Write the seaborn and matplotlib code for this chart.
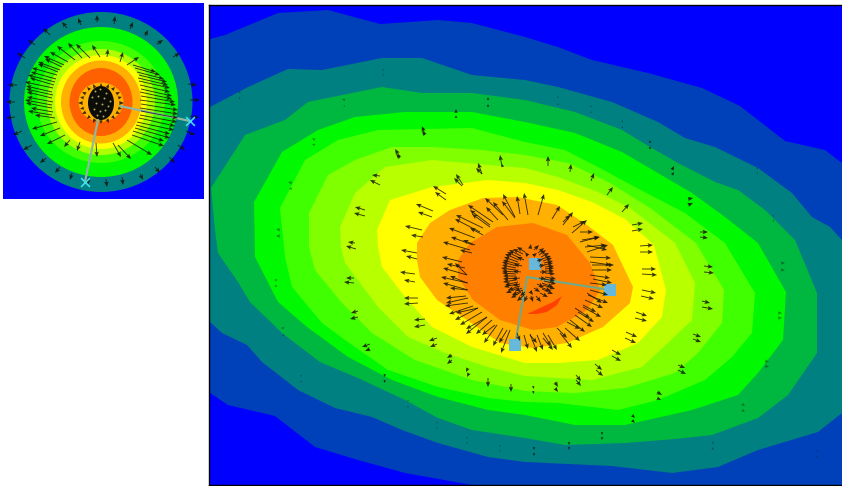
import matplotlib
matplotlib.use('Agg')
import matplotlib.pyplot as plt
from matplotlib.patches import Ellipse
import seaborn as sns

band_colors = ['#0040b8', '#008080', '#00b840', '#00f800', '#40ff00', '#80ff00',
               '#b8ff00', '#ffff00', '#ffb000', '#ff8000']
crescent_color = '#ff4000'
field_color = '#0000ff'

# contour edges of the large field, outermost first
edge1_x = [210, 225, 278, 328, 380, 438, 472, 525, 558, 592, 648, 702, 740, 785, 825, 842, 870, 870, 472, 405, 358, 315, 275, 228, 210, 190, 190]
edge1_y = [39, 35, 13, 10, 24, 20, 23, 37, 47, 60, 73, 88, 106, 141, 150, 163, 170, 500, 485, 473, 460, 447, 416, 405, 393, 393, 39]
edge2_x = [210, 248, 288, 322, 382, 422, 472, 525, 558, 612, 658, 685, 715, 758, 792, 812, 830, 842, 870, 870, 842, 818, 758, 718, 672, 612, 525, 488, 438, 402, 372, 335, 298, 262, 247, 222, 210, 190, 190]
edge2_y = [107, 87, 69, 70, 58, 58, 75, 80, 87, 102, 122, 138, 147, 168, 193, 217, 227, 240, 250, 400, 413, 432, 450, 467, 473, 466, 462, 457, 443, 430, 417, 408, 390, 362, 345, 333, 322, 322, 107]
edge3_x = [211, 245, 285, 308, 382, 422, 472, 525, 575, 622, 650, 678, 715, 738, 765, 795, 817, 817, 788, 758, 712, 675, 625, 565, 525, 472, 438, 405, 358, 320, 282, 250, 238, 218, 215]
edge3_y = [188, 135, 120, 102, 87, 93, 93, 100, 112, 130, 147, 163, 182, 190, 210, 240, 293, 353, 395, 418, 435, 439, 443, 445, 438, 430, 418, 400, 378, 362, 333, 302, 282, 253, 230]
edge4_x = [254, 282, 318, 355, 405, 472, 525, 575, 622, 692, 725, 758, 786, 783, 758, 738, 692, 625, 575, 525, 488, 438, 392, 348, 307, 278, 255]
edge4_y = [202, 152, 130, 117, 112, 112, 122, 133, 152, 193, 217, 243, 292, 340, 373, 395, 410, 425, 425, 415, 410, 397, 380, 357, 327, 302, 257]
edge5_x = [280, 305, 338, 378, 425, 472, 525, 565, 598, 635, 685, 725, 755, 752, 732, 705, 658, 618, 558, 525, 488, 438, 388, 345, 322, 292, 285]
edge5_y = [208, 160, 140, 130, 129, 128, 142, 150, 167, 187, 213, 243, 293, 333, 357, 380, 400, 410, 403, 402, 398, 387, 370, 340, 323, 287, 257]
edge6_x = [309, 328, 355, 392, 432, 482, 525, 568, 610, 650, 696, 724, 722, 698, 675, 625, 575, 525, 472, 415, 372, 342, 315, 309]
edge6_y = [213, 175, 160, 147, 147, 150, 155, 163, 183, 208, 243, 290, 323, 353, 373, 388, 393, 391, 380, 360, 333, 303, 270, 247]
edge7_x = [340, 355, 385, 432, 488, 525, 558, 598, 630, 675, 695, 692, 668, 642, 592, 525, 488, 445, 408, 378, 345, 341]
edge7_y = [227, 193, 167, 160, 165, 168, 177, 192, 208, 243, 283, 320, 343, 367, 380, 376, 367, 353, 337, 307, 263, 247]
edge8_x = [377, 390, 432, 488, 525, 558, 592, 625, 654, 666, 662, 638, 598, 558, 525, 472, 432, 405, 382, 378]
edge8_y = [230, 200, 187, 180, 183, 190, 202, 219, 245, 290, 317, 343, 360, 363, 363, 347, 327, 297, 267, 247]
edge9_x = [417, 430, 450, 483, 517, 557, 587, 613, 633, 630, 603, 567, 533, 500, 467, 437, 420, 417]
edge9_y = [243, 223, 210, 198, 197, 205, 225, 245, 287, 303, 327, 343, 348, 343, 320, 300, 277, 260]
edge10_x = [470, 497, 533, 567, 590, 600, 587, 557, 533, 500, 473, 458, 458]
edge10_y = [243, 227, 223, 235, 263, 290, 310, 327, 330, 320, 300, 277, 260]
crescent_x = [527, 540, 553, 562, 557, 547, 537]
crescent_y = [314, 308, 302, 296, 305, 312, 314]

# long arrows round the orange zone
ring1_x = [528, 538, 552, 563, 572, 580, 587, 592, 593, 588, 583, 575, 565, 543, 530, 510, 497, 487, 478, 468, 468, 467, 470, 475, 483, 493, 503, 515,
           563, 573, 580, 582, 587, 590, 592, 590, 587, 583, 575, 567, 557, 543, 530, 517, 507, 495, 487, 478, 468, 467, 467, 467, 472, 475, 483, 490, 498, 515,
           462, 465, 466, 468, 473, 480, 490, 508, 520, 585, 590, 590, 590, 585, 578, 570, 560, 548, 537, 524, 503, 492, 482, 473]
ring1_y = [215, 215, 219, 225, 233, 242, 252, 265, 279, 295, 307, 315, 328, 333, 334, 330, 325, 317, 308, 303, 290, 275, 250, 238, 228, 222, 215, 217,
           222, 227, 232, 240, 245, 257, 270, 283, 293, 305, 308, 322, 328, 338, 335, 333, 330, 325, 317, 308, 298, 290, 283, 275, 253, 245, 235, 227, 220, 218,
           262, 268, 296, 283, 245, 232, 225, 220, 214, 247, 262, 275, 290, 300, 312, 320, 333, 335, 335, 335, 328, 320, 312, 306]
ring1_u = [-4, 6, 8, 10, 15, 19, 21, 22, 19, 20, 18, 17, 15, 8, 7, -9, -13, -21, -23, -23, -25, -24, -27, -26, -27, -25, -18, -12,
           7, 12, 13, 18, 20, 21, 20, 17, 15, 13, 15, 13, 10, 10, 7, 3, -8, -13, -21, -22, -22, -17, -17, -12, -12, -12, -13, -18, -12, -13,
           -20, -18, -20, -27, -22, -25, -20, -15, -3, 21, 21, 20, 18, 18, 16, 15, 12, 9, 6, 4, -10, -16, -22, -24]
ring1_v = [-22, -21, -13, -13, -13, -5, -7, 0, 4, 8, 10, 12, 13, 13, 18, 23, 18, 17, 12, 3, -7, -7, -8, -10, -13, -17, -17, -23,
           -7, -6, 0, -3, 5, 1, 0, 2, 10, 7, 10, 7, 10, 12, 8, 8, 13, 10, 12, 5, 5, -2, -7, -12, -3, -5, -7, -13, -13, -17,
           -5, -4, 2, -6, -8, -13, -15, -18, -18, -2, 3, 3, 5, 8, 10, 12, 15, 15, 15, 14, 18, 14, 13, 8]

# paired arrows in the yellow and light green zone
ring2_x = [640, 640, 642, 642, 642, 641, 636, 635, 626, 625, 612, 612, 595, 596, 576, 576, 555, 555, 533, 533, 511, 488, 468, 469, 452, 452, 437, 437, 425, 425, 418, 418, 415, 415, 417, 417, 422, 423, 433, 432, 446, 446, 463, 462, 482, 482, 502, 503, 548, 570, 591, 607, 622, 632, 632]
ring2_y = [246, 252, 269, 274, 290, 296, 312, 318, 332, 338, 350, 356, 364, 370, 375, 380, 382, 388, 386, 391, 384, 378, 368, 373, 355, 360, 338, 344, 319, 325, 298, 303, 274, 282, 253, 259, 230, 237, 211, 217, 194, 200, 185, 186, 174, 174, 167, 167, 166, 172, 181, 195, 212, 231, 225]
ring2_u = [13, 13, 14, 15, 14, 13, 11, 12, 11, 11, 9, 9, 7, 7, 5, 5, 3, 3, 1, 1, 0, 0, -2, -2, -5, -5, -8, -7, -11, -11, -14, -14, -15, -11, -16, -11, -17, -12, -17, -14, -13, -11, -7, -8, -4, -6, -2, -1, 0, 1, 3, 6, 7, 11, 11]
ring2_v = [-1, 0, 0, 1, 3, 3, 4, 3, 5, 5, 5, 5, 6, 6, 6, 6, 5, 4, 3, 3, 8, 9, 4, 4, 3, 4, 3, 3, 1, 2, 0, 1, -2, -2, -3, -3, -4, -2, -7, -5, -8, -8, -11, -8, -11, -6, -12, -3, -10, -8, -8, -8, -8, -2, -2]

# short arrows in the green zone
ring3_x = [365, 365, 356, 355, 354, 354, 358, 358, 370, 370, 385, 385, 380, 380, 400, 400, 425, 425, 456, 456, 488, 488, 700, 700, 688, 688, 672, 672, 650, 650, 704, 704, 702, 702, 693, 693, 678, 678, 657, 657, 632, 632, 602, 602, 569, 569, 534, 534]
ring3_y = [210, 216, 249, 243, 278, 283, 311, 317, 344, 349, 374, 380, 176, 185, 157, 158, 135, 135, 113, 118, 100, 107, 232, 237, 205, 199, 170, 175, 143, 149, 266, 272, 301, 307, 334, 339, 365, 370, 392, 398, 415, 420, 432, 437, 442, 447, 447, 453]
ring3_u = [-10, -11, -10, -7, -8, -10, -7, -8, -8, -5, -1, -1, -8, -10, -5, -4, -3, -3, 0, 0, 0, 0, 8, 8, 5, 5, 2, 2, 0, 0, 9, 10, 8, 11, 8, 8, 7, 8, 5, 4, 3, 3, 0, 0, 0, 0, 0, 0]
ring3_v = [-3, -3, -3, -1, 0, -1, 2, 2, 3, 2, 3, 3, -1, -5, -8, -4, -9, -4, -4, -3, -3, -3, 0, 1, -2, -1, -4, -3, -3, -3, 1, 1, 2, 2, 3, 3, 3, 4, 3, 2, 3, 3, 3, 3, 3, 3, 3, 3]

# faint marks in the teal zone
ring4_x = [240, 240, 210, 210, 345, 345, 315, 315, 292, 292, 280, 280, 277, 277, 284, 284, 301, 301, 408, 408, 437, 437, 467, 467, 500, 500, 383, 383, 558, 558, 591, 591, 622, 622, 781, 781, 778, 778, 765, 765, 742, 742, 712, 712, 757, 757, 773, 773, 817, 817]
ring4_y = [93, 99, 153, 158, 100, 106, 140, 145, 183, 189, 230, 236, 280, 286, 328, 335, 375, 381, 400, 406, 422, 427, 437, 442, 445, 450, 69, 74, 98, 105, 107, 113, 122, 128, 263, 270, 313, 318, 361, 366, 404, 410, 442, 448, 169, 174, 215, 220, 450, 456]
ring4_u = [-1, -1, -1, -1, -3, -2, -3, -3, -4, -3, -4, -4, -3, -3, -3, -2, 0, 0, 0, 0, 0, 0, 0, 0, 0, 0, 0, 0, 0, 0, 0, 0, 1, 1, 4, 4, 4, 4, 4, 4, 3, 3, 2, 2, 1, 1, 1, 1, 0, 0]
ring4_v = [-2, -2, 0, 0, -1, 0, -2, -1, -1, -1, -1, 0, 0, 0, 0, 1, 2, 2, 2, 2, 2, 2, 2, 2, 2, 2, 2, 2, -2, -2, -2, -2, -2, -2, 0, 0, 0, 0, 1, 1, 2, 2, 2, 2, -2, -2, 2, 2, 2, 2]

# dense hatch at the source
hatch_x = [525, 521, 519, 517, 516, 516, 516, 516, 517, 518, 521, 524, 527, 531, 536, 540, 542, 543, 544, 545, 545, 545, 544, 543, 541, 538, 534, 530,
           528, 524, 522, 521, 520, 520, 522, 525, 530, 534, 537, 539, 540, 539, 537, 533,
           523, 520, 518, 517, 516, 516, 517, 518, 520, 523, 539, 542, 544, 545, 545, 544, 542, 540]
hatch_y = [252, 256, 260, 264, 268, 272, 276, 280, 284, 288, 292, 295, 296, 296, 296, 293, 289, 285, 281, 277, 273, 269, 265, 261, 257, 253, 250, 249,
           256, 260, 266, 272, 278, 284, 288, 292, 291, 288, 284, 278, 272, 266, 261, 256,
           254, 258, 262, 266, 270, 274, 278, 282, 286, 290, 255, 259, 263, 267, 271, 279, 283, 287]
hatch_u = [-8, -12, -14, -14, -14, -14, -13, -13, -13, -12, -10, -7, -3, 2, 5, 8, 11, 12, 12, 11, 10, 9, 9, 9, 8, 6, 5, 1,
           -3, -7, -8, -8, -8, -7, -7, -5, 3, 6, 7, 7, 7, 6, 6, 4,
           -10, -13, -14, -15, -15, -14, -14, -13, -12, -11, 7, 9, 9, 9, 9, 11, 11, 11]
hatch_v = [-5, -6, -6, -4, -3, -1, 0, 2, 3, 5, 6, 6, 6, 6, 6, 4, 5, 4, 3, 2, 1, -1, -2, -3, -4, -5, -5, -5,
           -4, -3, -2, -1, 1, 2, 3, 4, 4, 4, 3, 1, 0, -1, -2, -3,
           -5, -6, -5, -4, -2, -1, 1, 3, 4, 5, -5, -3, -2, -1, 0, 2, 4, 4]

source_x = [535, 610, 515]
source_y = [264, 290, 345]
feed_x = [527, 610]
feed_y = [277, 290]
feed2_x = [527, 515]
feed2_y = [277, 345]

# small overview panel, colour bands as ellipses
inset_colors = ['#008080', '#00f800', '#40ff00', '#b0ff00', '#ffff00', '#ffb000', '#ff6000', '#ffb000']
inset_width = [183, 154, 128, 108, 92, 80, 63, 45]
inset_height = [180, 150, 122, 106, 94, 83, 68, 39]

inset_x = [97, 114, 130, 145, 157, 173, 188, 190, 190, 186, 178, 169, 155, 140, 122, 106, 88, 72, 60, 46, 32, 22, 15, 15, 17, 25, 35, 50, 67, 81,
           90, 100, 107, 120, 127, 133, 137, 138, 140, 140, 140, 140, 140, 137, 135, 132, 127, 118, 113, 96, 80, 70, 65, 60, 57, 52, 52, 53, 53, 53, 55, 57, 60, 64, 68, 75, 82,
           55, 53, 52, 52, 52, 54, 56, 58, 62, 135, 139, 139, 141, 141, 141, 141, 139, 136, 133]
inset_y = [22, 24, 29, 36, 44, 57, 84, 100, 116, 131, 145, 157, 167, 174, 177, 179, 177, 173, 167, 158, 145, 131, 117, 102, 85, 58, 45, 35, 28, 25,
           58, 57, 57, 62, 65, 65, 72, 78, 85, 92, 100, 108, 115, 122, 128, 135, 140, 145, 143, 143, 142, 140, 135, 128, 122, 115, 108, 102, 95, 88, 82, 75, 70, 65, 62, 60, 58,
           118, 112, 105, 98, 92, 85, 79, 72, 67, 68, 75, 81, 89, 96, 104, 111, 118, 125, 131]
inset_u = [0, 1, 3, 3, 6, 7, 9, 10, 9, 9, 7, 6, 5, 3, 1, 1, 0, -2, -5, -6, -9, -9, -9, -9, -9, -8, -7, -7, -5, -3,
           -14, -8, 1, 3, 12, 23, 27, 30, 30, 32, 36, 38, 37, 37, 35, 32, 25, 13, 8, 1, -3, -6, -18, -20, -25, -24, -26, -26, -27, -28, -27, -25, -22, -20, -18, -18, -14,
           -20, -22, -27, -25, -26, -24, -25, -20, -17, 25, 28, 31, 31, 34, 37, 37, 36, 34, 31]
inset_v = [-7, -8, -7, -6, -4, -4, 1, 0, 2, 4, 5, 6, 6, 6, 8, 8, 8, 7, 6, 5, 5, 4, 1, 0, 0, -5, -5, -7, -6, -7,
           -14, -12, -8, -10, -8, 7, 7, 7, 7, 7, 5, 6, 7, 8, 10, 11, 15, 14, 14, 14, 9, 7, 9, 8, 7, -4, -5, -5, -6, -6, -7, -7, -8, -9, -10, -14, -15,
           -3, -4, -5, -6, -6, -7, -7, -8, -8, 7, 7, 7, 7, 6, 6, 7, 8, 9, 10]

inset_hatch_x = [101, 107, 112, 116, 118, 119, 118, 116, 112, 107, 101, 95, 90, 86, 84, 83, 84, 86, 90, 95]
inset_hatch_y = [87, 88, 90, 94, 98, 103, 108, 112, 116, 119, 120, 119, 116, 112, 108, 103, 98, 94, 90, 88]
inset_hatch_u = [0, 2, 3, 4, 4, 5, 4, 4, 3, 2, 0, -2, -3, -4, -4, -5, -4, -4, -3, -2]
inset_hatch_v = [-4, -4, -3, -2, -1, 0, 1, 2, 3, 4, 4, 4, 3, 2, 1, 0, -1, -2, -3, -4]

speck_x = [95, 100, 106, 92, 98, 104, 110, 96, 102, 108, 94, 100, 105, 97, 103]
speck_y = [91, 89, 93, 97, 96, 98, 101, 103, 104, 106, 109, 111, 110, 115, 116]

inset_feed_x = [120, 190]
inset_feed_y = [106, 121]
inset_feed2_x = [98, 85]
inset_feed2_y = [120, 182]
inset_source_x = [190, 85]
inset_source_y = [121, 182]

sns.set_theme(style='white')
fig = plt.figure(figsize=(8.42, 4.86), dpi=100)
fig.patch.set_facecolor('white')

arrow_style = dict(angles='xy', scale_units='xy', scale=1, units='dots', width=0.9,
                   headwidth=5, headlength=6, headaxislength=5, minlength=0.3,
                   color='#14140a', alpha=0.85, zorder=4)

# large panel
ax = fig.add_axes([209 / 842, 1 - 485 / 486, 633 / 842, 480 / 486])
ax.set_facecolor(field_color)
palette = sns.color_palette(band_colors)
edges = [(edge1_x, edge1_y), (edge2_x, edge2_y), (edge3_x, edge3_y), (edge4_x, edge4_y), (edge5_x, edge5_y),
         (edge6_x, edge6_y), (edge7_x, edge7_y), (edge8_x, edge8_y), (edge9_x, edge9_y), (edge10_x, edge10_y)]
for (ex, ey), col in zip(edges, palette):
    ax.fill(ex, ey, color=col, lw=0, zorder=1)
ax.fill(crescent_x, crescent_y, color=crescent_color, lw=0, zorder=2)

for x, y, u, v in [(ring1_x, ring1_y, ring1_u, ring1_v), (ring2_x, ring2_y, ring2_u, ring2_v),
                   (ring3_x, ring3_y, ring3_u, ring3_v), (hatch_x, hatch_y, hatch_u, hatch_v)]:
    ax.quiver(x, y, u, v, **arrow_style)
faint_style = dict(arrow_style)
faint_style.update(alpha=0.45)
ax.quiver(ring4_x, ring4_y, ring4_u, ring4_v, **faint_style)

sns.lineplot(x=feed_x, y=feed_y, sort=False, estimator=None, color='#74a884', lw=1.6, ax=ax, zorder=3)
sns.lineplot(x=feed2_x, y=feed2_y, sort=False, estimator=None, color='#74a884', lw=1.6, ax=ax, zorder=3)
sns.scatterplot(x=source_x, y=source_y, marker='s', s=75, color='#68b8dc', linewidth=0, ax=ax, zorder=3.5)
ax.set_xlim(209, 842)
ax.set_ylim(485, 5)
ax.set_xticks([])
ax.set_yticks([])
sns.despine(ax=ax, right=True, top=False)
for name in ['left', 'top', 'bottom']:
    ax.spines[name].set_color('black')
    ax.spines[name].set_linewidth(1)

# small panel
ax2 = fig.add_axes([3 / 842, 1 - 199 / 486, 201 / 842, 196 / 486])
ax2.set_facecolor(field_color)
for w, h, col in zip(inset_width, inset_height, inset_colors):
    ax2.add_patch(Ellipse((101, 102), w, h, color=col, lw=0, zorder=1))
ax2.add_patch(Ellipse((101, 103), 26, 34, color='#0c0c08', lw=0, zorder=3))

ax2.quiver(inset_x, inset_y, inset_u, inset_v, **arrow_style)
ax2.quiver(inset_hatch_x, inset_hatch_y, inset_hatch_u, inset_hatch_v, **arrow_style)
sns.scatterplot(x=speck_x, y=speck_y, s=2, color='#b0a860', linewidth=0, ax=ax2, zorder=5)

sns.lineplot(x=inset_feed_x, y=inset_feed_y, sort=False, estimator=None, color='#90b8a0', lw=1.6, ax=ax2, zorder=3)
sns.lineplot(x=inset_feed2_x, y=inset_feed2_y, sort=False, estimator=None, color='#90b8a0', lw=1.6, ax=ax2, zorder=3)
sns.scatterplot(x=inset_source_x, y=inset_source_y, marker='x', s=40, color='#40e0f0', linewidth=1.2, ax=ax2, zorder=5)
ax2.set_xlim(3, 204)
ax2.set_ylim(199, 3)
ax2.set_xticks([])
ax2.set_yticks([])
sns.despine(ax=ax2, left=True, bottom=True)

fig.savefig('out.png', dpi=100)
